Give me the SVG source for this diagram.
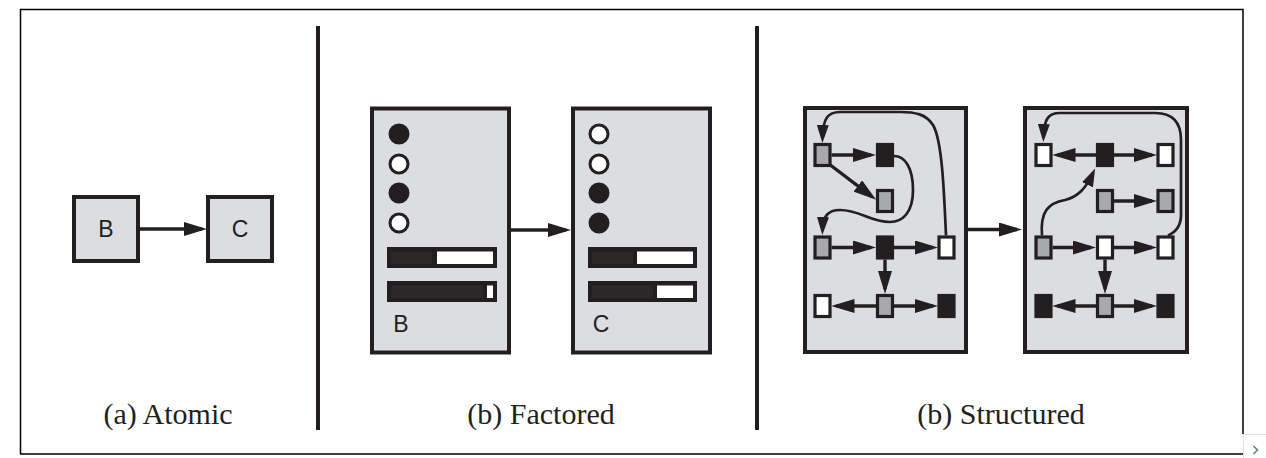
<svg xmlns="http://www.w3.org/2000/svg" width="1266" height="458" viewBox="0 0 1266 458">
  <defs>
    <!-- large arrowhead for straight connectors -->
    <marker id="arrow" markerUnits="userSpaceOnUse" markerWidth="23" markerHeight="14" refX="18" refY="7" orient="auto">
      <path d="M0,0 L23,7 L0,14 Z" fill="#231f20"/>
    </marker>
    <!-- slimmer arrowhead for curved connectors -->
    <marker id="arrow-s" markerUnits="userSpaceOnUse" markerWidth="18" markerHeight="12" refX="13" refY="6" orient="auto">
      <path d="M0,0 L18,6 L0,12 Z" fill="#231f20"/>
    </marker>
  </defs>
  <style>
    .frame { fill: none; stroke: #000; stroke-width: 1.5; }
    .divider { stroke: #231f20; stroke-width: 4; }
    .box { fill: #dcdde0; stroke: #231f20; stroke-width: 4; }
    .label { font-family: "Liberation Sans", Arial, sans-serif; font-size: 23px; fill: #231f20; }
    .caption { font-family: "Liberation Serif", "Times New Roman", serif; font-size: 30px; fill: #231f20; text-anchor: middle; }
    .edge { fill: none; stroke: #231f20; stroke-width: 3.4; marker-end: url(#arrow); }
    .curve { fill: none; stroke: #231f20; stroke-width: 2.7; marker-end: url(#arrow-s); }
    .dot-dark { fill: #231f20; stroke: #231f20; stroke-width: 3; }
    .dot-light { fill: #fff; stroke: #231f20; stroke-width: 3; }
    .bar { fill: #231f20; }
    .bar-fill { fill: #2c2829; }
    .bar-empty { fill: #fff; }
    .n { stroke: #231f20; stroke-width: 3.2; }
    .n-gray { fill: #a7a9ac; }
    .n-white { fill: #fff; }
    .n-black { fill: #231f20; }
  </style>

  <!-- outer frame -->
  <g id="frame">
    <path class="frame" d="M20.5,454 L20.5,9.5 L1243,9.5 L1243,434"/>
    <path class="frame" d="M20,454 L1243,454"/>
    <rect x="1243.5" y="434.5" width="30" height="30" fill="#fff" stroke="#dfe3e8" stroke-width="1"/>
    <path d="M1253.5,446 L1257.5,450 L1253.5,454" fill="none" stroke="#6b7b93" stroke-width="1.6"/>
  </g>

  <!-- panel dividers -->
  <g id="dividers">
    <line class="divider" x1="318" y1="26" x2="318" y2="430"/>
    <line class="divider" x1="757" y1="26" x2="757" y2="430"/>
  </g>

  <!-- (a) atomic states -->
  <g id="atomic-B">
    <rect class="box" x="74" y="197" width="64" height="64"/>
    <text class="label" x="106" y="237" text-anchor="middle">B</text>
  </g>
  <g id="atomic-C">
    <rect class="box" x="208" y="197" width="64" height="64"/>
    <text class="label" x="240" y="237" text-anchor="middle">C</text>
  </g>

  <!-- (b) factored states -->
  <g id="factored-B">
    <rect class="box" x="372" y="108.5" width="137" height="244"/>
    <circle class="dot-dark" cx="399" cy="134" r="9"/>
    <circle class="dot-light" cx="399" cy="164" r="9"/>
    <circle class="dot-dark" cx="399" cy="193" r="9"/>
    <circle class="dot-light" cx="399" cy="223" r="9"/>
    <rect class="bar" x="387" y="247" width="110" height="21"/>
    <rect class="bar-fill" x="391" y="251.5" width="41" height="12.5"/>
    <rect class="bar-empty" x="437" y="251.5" width="56" height="12.5"/>
    <rect class="bar" x="387" y="281" width="110" height="21"/>
    <rect class="bar-fill" x="391" y="285.5" width="92" height="12.5"/>
    <rect class="bar-empty" x="487" y="285.5" width="6" height="12.5"/>
    <text class="label" x="401" y="332" text-anchor="middle">B</text>
  </g>
  <g id="factored-C">
    <rect class="box" x="573" y="108.5" width="137" height="244"/>
    <circle class="dot-light" cx="599" cy="134" r="9"/>
    <circle class="dot-light" cx="599" cy="164" r="9"/>
    <circle class="dot-dark" cx="599" cy="193" r="9"/>
    <circle class="dot-dark" cx="599" cy="223" r="9"/>
    <rect class="bar" x="588" y="247" width="109" height="21"/>
    <rect class="bar-fill" x="592" y="251.5" width="41" height="12.5"/>
    <rect class="bar-empty" x="637" y="251.5" width="56" height="12.5"/>
    <rect class="bar" x="588" y="281" width="109" height="21"/>
    <rect class="bar-fill" x="592" y="285.5" width="61" height="12.5"/>
    <rect class="bar-empty" x="657" y="285.5" width="36" height="12.5"/>
    <text class="label" x="601" y="332" text-anchor="middle">C</text>
  </g>

  <!-- (b) structured states: left -->
  <g id="structured-B">
    <rect class="box" x="805" y="108" width="161" height="244"/>
    <rect class="n n-gray" x="815" y="144.5" width="15" height="21"/>
    <rect class="n n-black" x="877.5" y="144.5" width="15" height="21"/>
    <rect class="n n-gray" x="877.5" y="190.5" width="15" height="21"/>
    <rect class="n n-gray" x="815" y="237" width="15" height="21"/>
    <rect class="n n-black" x="877.5" y="237" width="15" height="21"/>
    <rect class="n n-white" x="939" y="237" width="15" height="21"/>
    <rect class="n n-white" x="815" y="295.5" width="15" height="21"/>
    <rect class="n n-gray" x="877.5" y="295.5" width="15" height="21"/>
    <rect class="n n-black" x="939" y="295.5" width="15" height="21"/>
  </g>

  <!-- (b) structured states: right -->
  <g id="structured-C">
    <rect class="box" x="1025" y="108" width="162" height="244"/>
    <rect class="n n-white" x="1036" y="144.5" width="15" height="21"/>
    <rect class="n n-black" x="1097.5" y="144.5" width="15" height="21"/>
    <rect class="n n-white" x="1158" y="144.5" width="15" height="21"/>
    <rect class="n n-gray" x="1097.5" y="190.5" width="15" height="21"/>
    <rect class="n n-gray" x="1158" y="190.5" width="15" height="21"/>
    <rect class="n n-gray" x="1036" y="237" width="15" height="21"/>
    <rect class="n n-white" x="1097.5" y="237" width="15" height="21"/>
    <rect class="n n-white" x="1158" y="237" width="15" height="21"/>
    <rect class="n n-black" x="1036" y="295.5" width="15" height="21"/>
    <rect class="n n-gray" x="1097.5" y="295.5" width="15" height="21"/>
    <rect class="n n-black" x="1158" y="295.5" width="15" height="21"/>
  </g>

  <!-- connectors -->
  <g id="connectors">
    <!-- state transitions -->
    <path class="edge" d="M140,229 L202,229"/>
    <path class="edge" d="M510,230 L566,230"/>
    <path class="edge" d="M967,229.5 L1017,229.5"/>

    <!-- left structured graph -->
    <path class="edge" d="M831.5,155 L871,155"/>
    <path class="edge" d="M829,164 L872.2,196.8"/>
    <path class="edge" d="M831.5,247.5 L871,247.5"/>
    <path class="edge" d="M894,247.5 L933,247.5"/>
    <path class="edge" d="M885,259.5 L885,289"/>
    <path class="edge" d="M876,306 L836.5,306"/>
    <path class="edge" d="M894,306 L933,306"/>
    <path class="curve" d="M894,156 C905,156 913,168 913,190 C913,212 903,222 890,222 C870,222 860,210 840,210 C828,210 823,216 822.5,230"/>
    <path class="curve" d="M946,235.5 C944,190 942,140 933,125 C926,114 915,112 900,112 L840,112 C828,112 823,118 822.5,138"/>

    <!-- right structured graph -->
    <path class="edge" d="M1096,155 L1057.5,155"/>
    <path class="edge" d="M1114,155 L1152,155"/>
    <path class="edge" d="M1114,201 L1152,201"/>
    <path class="edge" d="M1052.5,247.5 L1091,247.5"/>
    <path class="edge" d="M1114,247.5 L1152,247.5"/>
    <path class="edge" d="M1105,259.5 L1105,289"/>
    <path class="edge" d="M1096,306 L1057.5,306"/>
    <path class="edge" d="M1114,306 L1152,306"/>
    <path class="curve" d="M1042,235.5 C1040,212 1048,203 1065,200 C1078,197 1086,188 1093,173"/>
    <path class="curve" d="M1168,235.5 C1176,232 1181,226 1181,215 L1181,140 C1181,122 1172,113 1155,113 L1060,113 C1049,113 1044,118 1043.5,137"/>
  </g>

  <!-- captions -->
  <g id="captions">
    <text class="caption" x="168" y="424">(a) Atomic</text>
    <text class="caption" x="541" y="424">(b) Factored</text>
    <text class="caption" x="1001" y="424">(b) Structured</text>
  </g>
</svg>
